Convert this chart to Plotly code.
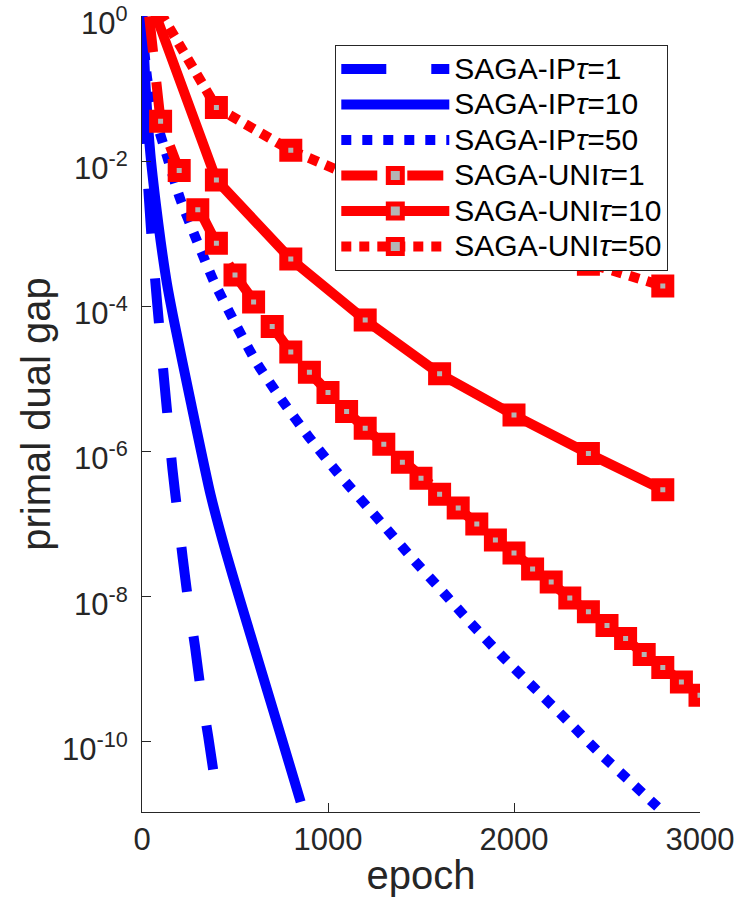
import numpy as np
import plotly.graph_objects as go

# ---- data (x = epoch, y = log10(primal dual gap)) ----
ip1_epoch = [0, 10, 25, 50, 83, 118, 140, 163, 190, 219, 249, 285, 317, 356, 392]
ip1_log = [0.1, -1.0, -2.0, -3.0, -4.0, -4.99, -5.59, -6.23, -6.83, -7.47, -8.07, -8.69, -9.31, -9.93, -10.55]

ip10_epoch = [0, 20, 45, 75, 100, 135, 172, 263, 369, 450, 527, 608, 742, 853]
ip10_log = [0.1, -1.0, -1.9, -2.6, -3.1, -3.7, -4.2, -5.33, -6.6, -7.38, -8.05, -8.74, -9.88, -10.83]

ip50_epoch = [0, 10, 30, 81, 133, 204, 294, 387, 500, 617, 751, 894, 1047, 1289, 1445,
              1608, 1769, 1939, 2109, 2283, 2453, 2633, 2801]
ip50_log = [0.1, -0.4, -0.9, -1.48, -1.92, -2.51, -3.09, -3.66, -4.23, -4.78, -5.29, -5.79,
            -6.28, -6.99, -7.45, -7.91, -8.37, -8.83, -9.26, -9.70, -10.14, -10.57, -10.97]

uni1_epoch = list(range(0, 3001, 100))
uni1_log = [0.9, -1.45, -2.13, -2.67, -3.13, -3.57, -3.94, -4.28, -4.63, -4.91, -5.19,
            -5.45, -5.68, -5.90, -6.15, -6.37, -6.59, -6.78, -7.00, -7.22, -7.40,
            -7.62, -7.80, -8.02, -8.21, -8.40, -8.58, -8.80, -8.98, -9.18, -9.36]

uni10_epoch = [0, 400, 800, 1200, 1600, 2000, 2400, 2800]
uni10_log = [0.53, -2.26, -3.35, -4.19, -4.93, -5.50, -6.03, -6.53]

uni50_epoch = [0, 400, 800, 1200, 1600, 2000, 2400, 2800]
uni50_log = [0.48, -1.26, -1.85, -2.30, -2.72, -3.09, -3.42, -3.72]

x_ticks = [0, 1000, 2000, 3000]
y_tick_exp = [0, -2, -4, -6, -8, -10]

labels = ["SAGA-IP<i>τ</i>=1", "SAGA-IP<i>τ</i>=10", "SAGA-IP<i>τ</i>=50",
          "SAGA-UNI<i>τ</i>=1", "SAGA-UNI<i>τ</i>=10", "SAGA-UNI<i>τ</i>=50"]
names = ['<span style="font-size:30px">%s</span>' % s for s in labels]

BLUE = "#0000ff"
RED = "#ff0000"
AX = "#262626"
FONT = "Liberation Sans, Arial, sans-serif"

W, H = 739, 906
L, R, T, B = 142, 39, 16, 94
PW, PH = W - L - R, H - T - B

fig = go.Figure()

blue_specs = [
    (ip1_epoch, ip1_log, "45px,45px"),
    (ip10_epoch, ip10_log, "solid"),
    (ip50_epoch, ip50_log, "10px,11px"),
]
for (ex, ly, dash), nm in zip(blue_specs, names[:3]):
    fig.add_trace(go.Scatter(
        x=ex, y=np.power(10.0, ly), mode="lines", name=nm,
        line=dict(color=BLUE, width=10, dash=dash, shape="spline", smoothing=0.6),
    ))

red_specs = [
    (uni1_epoch, uni1_log, "36px,30px"),
    (uni10_epoch, uni10_log, "solid"),
    (uni50_epoch, uni50_log, "10px,8px"),
]
for (ex, ly, dash), nm in zip(red_specs, names[3:]):
    fig.add_trace(go.Scatter(
        x=ex, y=np.power(10.0, ly), mode="lines+markers", name=nm,
        line=dict(color=RED, width=10, dash=dash),
        marker=dict(symbol="square", size=14, color="#b4b4b4",
                    line=dict(color=RED, width=9)),
    ))

# y tick labels as text placed through the y axis (log axis: position given as exponent)
for e in y_tick_exp:
    fig.add_annotation(
        x=0, xref="paper", y=e, yref="y", text="10<sup>%d</sup>" % e,
        showarrow=False, xanchor="right", yanchor="middle", xshift=-12, yshift=-5,
        font=dict(family=FONT, size=31, color=AX),
    )

fig.update_layout(
    width=W, height=H,
    margin=dict(l=L, r=R, t=T, b=B),
    paper_bgcolor="white", plot_bgcolor="white",
    font=dict(family=FONT, size=31, color=AX),
    showlegend=True,
    legend=dict(
        x=(335 - L) / PW, y=1 - (45 - T) / PH, xanchor="left", yanchor="top",
        bgcolor="white", bordercolor=AX, borderwidth=1.3,
        font=dict(family=FONT, size=25, color="black"),
        itemwidth=108, tracegroupgap=0,
    ),
)

fig.update_xaxes(
    range=[0, 3000], tickvals=x_ticks, ticktext=[str(v) for v in x_ticks],
    showline=True, linecolor=AX, linewidth=1.3, mirror=False, automargin=False,
    ticks="inside", ticklen=9, tickwidth=1.3, tickcolor=AX,
    showgrid=False, zeroline=False, ticklabeloverflow="allow",
    tickfont=dict(family=FONT, size=31, color=AX),
    title=dict(text="epoch", font=dict(family=FONT, size=40, color=AX), standoff=4),
)
fig.update_yaxes(
    type="log", range=[-10.97, 0.0005],
    tickvals=[10.0 ** e for e in y_tick_exp],
    showticklabels=False,
    showline=True, linecolor=AX, linewidth=1.3, mirror=False, automargin=False,
    ticks="inside", ticklen=9, tickwidth=1.3, tickcolor=AX,
    showgrid=False, zeroline=False,
    title=dict(text="primal dual gap", font=dict(family=FONT, size=40, color=AX), standoff=77),
)

# remove the default 8px page margin so the 739x906 figure fills the window exactly
fig.write_html("out.html", config={"displayModeBar": False},
               post_script="document.body.style.margin='0';")
